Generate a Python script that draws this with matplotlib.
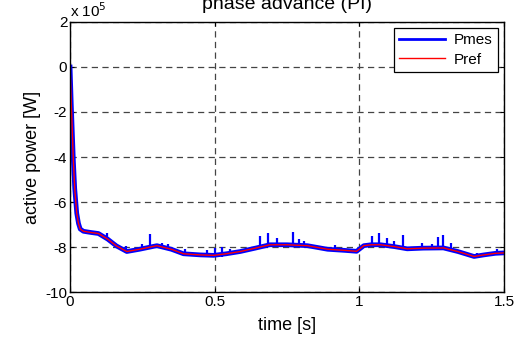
from matplotlib import pyplot as plt

# reference power trace (x 1e5 W)
t_ref = [0.0, 0.004, 0.008, 0.0115, 0.016, 0.023, 0.029, 0.035, 0.046, 0.07,
         0.098, 0.13, 0.16, 0.196, 0.24, 0.3, 0.35, 0.392, 0.45, 0.496,
         0.54, 0.588, 0.64, 0.69, 0.75, 0.82, 0.89, 0.95, 0.99, 1.015,
         1.04, 1.073, 1.12, 1.165, 1.22, 1.29, 1.34, 1.396, 1.43, 1.47, 1.5]
p_ref = [0.0, -1.6, -3.0, -4.2, -5.4, -6.5, -6.95, -7.2, -7.3, -7.35,
         -7.4, -7.65, -7.95, -8.2, -8.1, -7.94, -8.1, -8.3, -8.35, -8.37,
         -8.3, -8.2, -8.05, -7.9, -7.9, -7.94, -8.1, -8.15, -8.19, -7.94,
         -7.9, -7.9, -7.98, -8.08, -8.05, -8.04, -8.2, -8.42, -8.35, -8.28, -8.26]

# measured power spikes: time, lower and upper value (x 1e5 W)
spike_t = [0.127, 0.193, 0.248, 0.277, 0.317, 0.34, 0.398, 0.473, 0.502, 0.525,
           0.554, 0.655, 0.683, 0.715, 0.77, 0.79, 0.81, 0.914, 1.044, 1.067,
           1.095, 1.119, 1.15, 1.215, 1.25, 1.273, 1.29, 1.315, 1.405, 1.474]
spike_lo = [-7.6, -8.25, -8.15, -8.05, -8.0, -8.1, -8.35, -8.45, -8.45, -8.45,
            -8.35, -8.1, -8.0, -7.95, -7.95, -8.0, -8.0, -8.2, -8.0, -7.95,
            -8.0, -8.0, -8.05, -8.1, -8.1, -8.1, -8.1, -8.15, -8.45, -8.35]
spike_hi = [-7.39, -7.94, -7.85, -7.42, -7.8, -7.85, -8.1, -8.15, -8.05, -8.0,
            -8.1, -7.49, -7.39, -7.6, -7.35, -7.65, -7.75, -7.9, -7.52, -7.39,
            -7.6, -7.75, -7.45, -7.8, -7.85, -7.57, -7.46, -7.8, -8.25, -8.1]

y_ticks = [-10, -8, -6, -4, -2, 0, 2]
x_ticks = [0, 0.5, 1, 1.5]

plt.rcParams["font.family"] = ["Liberation Sans", "DejaVu Sans"]
plt.rcParams["axes.unicode_minus"] = False

fig = plt.figure(figsize=(5.23, 3.38), dpi=100)
ax = fig.add_axes([0.134, 0.136, 0.830, 0.799])

# measured power: noisy band plus spikes
ax.plot(t_ref, p_ref, color="#0000ff", linewidth=3.4, label="Pmes")
ax.vlines(spike_t, spike_lo, spike_hi, color="#0000ff", linewidth=1.6)
ax.plot(t_ref, p_ref, color="#ff0000", linewidth=1.0, label="Pref")

ax.set_xlim(0, 1.5)
ax.set_ylim(-10, 2)
ax.set_xticks(x_ticks)
ax.set_xticklabels(["0", "0.5", "1", "1.5"])
ax.set_yticks(y_ticks)
ax.tick_params(direction="in", length=3, top=True, right=True, labelsize=11,
               pad=2)
ax.grid(color="#444444", linestyle=(0, (5, 3.5)), linewidth=0.9)
for s in ax.spines.values():
    s.set_linewidth(1.0)

ax.set_xlabel("time [s]", fontsize=13, labelpad=6)
ax.set_ylabel("active power [W]", fontsize=13, labelpad=3)
ax.set_title("phase advance (PI)", fontsize=14, pad=9)
ax.text(0.0, 1.02, r"x 10$^{5}$", transform=ax.transAxes, fontsize=11,
        ha="left", va="baseline")

leg = ax.legend(loc="upper right", fontsize=11, fancybox=False,
                framealpha=1, edgecolor="black", borderaxespad=0.4,
                handlelength=3.0, borderpad=0.35, labelspacing=0.35,
                handletextpad=0.6)
leg.get_frame().set_linewidth(0.9)
leg.legend_handles[0].set_linewidth(2.0)

plt.savefig("out.png")
